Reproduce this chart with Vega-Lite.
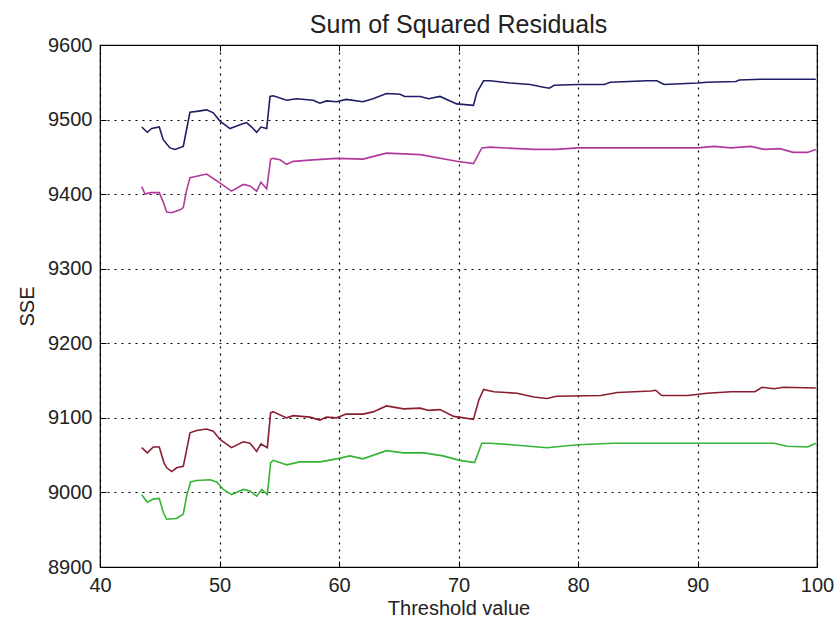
{
  "$schema": "https://vega.github.io/schema/vega-lite/v6.json",
  "width": 717,
  "height": 522,
  "autosize": "none",
  "padding": {"left": 100, "top": 45, "right": 18, "bottom": 52},
  "background": "white",
  "config": {
    "font": "Liberation Sans",
    "view": {"stroke": "black", "strokeWidth": 1.2}
  },
  "title": {"text": "Sum of Squared Residuals", "fontSize": 25, "fontWeight": "normal", "color": "#222222", "offset": -3, "anchor": "middle", "font": "Liberation Sans"},
  "data": {"values": [
    {"x":43.49,"y":9490,"s":"b"},{"x":43.96,"y":9483,"s":"b"},{"x":44.32,"y":9488,"s":"b"},{"x":44.96,"y":9490,"s":"b"},{"x":45.29,"y":9473,"s":"b"},{"x":45.86,"y":9462,"s":"b"},{"x":46.28,"y":9460,"s":"b"},{"x":46.97,"y":9464,"s":"b"},{"x":47.25,"y":9487,"s":"b"},{"x":47.53,"y":9510,"s":"b"},{"x":48.09,"y":9511,"s":"b"},{"x":48.92,"y":9513,"s":"b"},{"x":49.48,"y":9509,"s":"b"},{"x":50.04,"y":9498,"s":"b"},{"x":50.88,"y":9488,"s":"b"},{"x":51.72,"y":9493,"s":"b"},{"x":52.27,"y":9496,"s":"b"},{"x":52.69,"y":9490,"s":"b"},{"x":53.11,"y":9483,"s":"b"},{"x":53.47,"y":9490,"s":"b"},{"x":53.95,"y":9488,"s":"b"},{"x":54.23,"y":9531,"s":"b"},{"x":54.5,"y":9532,"s":"b"},{"x":55.62,"y":9526,"s":"b"},{"x":56.45,"y":9528,"s":"b"},{"x":57.85,"y":9526,"s":"b"},{"x":58.4,"y":9522,"s":"b"},{"x":58.97,"y":9525,"s":"b"},{"x":59.8,"y":9524,"s":"b"},{"x":60.6,"y":9527,"s":"b"},{"x":62.0,"y":9524,"s":"b"},{"x":62.85,"y":9528,"s":"b"},{"x":63.97,"y":9535,"s":"b"},{"x":65.1,"y":9534,"s":"b"},{"x":65.5,"y":9531,"s":"b"},{"x":66.8,"y":9531,"s":"b"},{"x":67.5,"y":9528,"s":"b"},{"x":68.45,"y":9531,"s":"b"},{"x":69.85,"y":9521,"s":"b"},{"x":71.25,"y":9519,"s":"b"},{"x":71.53,"y":9536,"s":"b"},{"x":72.1,"y":9552,"s":"b"},{"x":72.65,"y":9552,"s":"b"},{"x":74.35,"y":9549,"s":"b"},{"x":76.0,"y":9547,"s":"b"},{"x":76.9,"y":9544,"s":"b"},{"x":77.6,"y":9542,"s":"b"},{"x":78.0,"y":9546,"s":"b"},{"x":79.95,"y":9547,"s":"b"},{"x":82.2,"y":9547,"s":"b"},{"x":82.7,"y":9550,"s":"b"},{"x":85.8,"y":9552,"s":"b"},{"x":86.6,"y":9552,"s":"b"},{"x":87.2,"y":9547,"s":"b"},{"x":90.0,"y":9549,"s":"b"},{"x":90.8,"y":9550,"s":"b"},{"x":93.2,"y":9551,"s":"b"},{"x":93.5,"y":9553,"s":"b"},{"x":95.3,"y":9554,"s":"b"},{"x":99.9,"y":9554,"s":"b"},
    {"x":43.49,"y":9410,"s":"m"},{"x":43.77,"y":9400,"s":"m"},{"x":44.2,"y":9402,"s":"m"},{"x":44.96,"y":9402,"s":"m"},{"x":45.3,"y":9389,"s":"m"},{"x":45.58,"y":9376,"s":"m"},{"x":46.0,"y":9375,"s":"m"},{"x":46.7,"y":9379,"s":"m"},{"x":46.97,"y":9382,"s":"m"},{"x":47.2,"y":9402,"s":"m"},{"x":47.53,"y":9422,"s":"m"},{"x":48.09,"y":9424,"s":"m"},{"x":48.92,"y":9427,"s":"m"},{"x":49.76,"y":9418,"s":"m"},{"x":51.0,"y":9404,"s":"m"},{"x":51.99,"y":9413,"s":"m"},{"x":52.55,"y":9411,"s":"m"},{"x":53.11,"y":9404,"s":"m"},{"x":53.47,"y":9416,"s":"m"},{"x":53.95,"y":9407,"s":"m"},{"x":54.28,"y":9447,"s":"m"},{"x":54.5,"y":9448,"s":"m"},{"x":55.06,"y":9446,"s":"m"},{"x":55.62,"y":9440,"s":"m"},{"x":56.17,"y":9444,"s":"m"},{"x":57.85,"y":9446,"s":"m"},{"x":59.8,"y":9448,"s":"m"},{"x":62.0,"y":9447,"s":"m"},{"x":63.97,"y":9455,"s":"m"},{"x":66.8,"y":9453,"s":"m"},{"x":69.85,"y":9444,"s":"m"},{"x":71.25,"y":9441,"s":"m"},{"x":71.95,"y":9462,"s":"m"},{"x":72.65,"y":9463,"s":"m"},{"x":76.3,"y":9460,"s":"m"},{"x":78.2,"y":9460,"s":"m"},{"x":79.95,"y":9462,"s":"m"},{"x":90.0,"y":9462,"s":"m"},{"x":91.4,"y":9464,"s":"m"},{"x":92.8,"y":9462,"s":"m"},{"x":94.45,"y":9464,"s":"m"},{"x":95.6,"y":9460,"s":"m"},{"x":96.9,"y":9461,"s":"m"},{"x":98.0,"y":9456,"s":"m"},{"x":99.2,"y":9456,"s":"m"},{"x":99.9,"y":9460,"s":"m"},
    {"x":43.49,"y":9060,"s":"r"},{"x":43.96,"y":9053,"s":"r"},{"x":44.46,"y":9061,"s":"r"},{"x":44.96,"y":9061,"s":"r"},{"x":45.35,"y":9040,"s":"r"},{"x":45.58,"y":9033,"s":"r"},{"x":46.0,"y":9028,"s":"r"},{"x":46.41,"y":9033,"s":"r"},{"x":46.97,"y":9035,"s":"r"},{"x":47.25,"y":9057,"s":"r"},{"x":47.53,"y":9080,"s":"r"},{"x":48.09,"y":9083,"s":"r"},{"x":48.92,"y":9085,"s":"r"},{"x":49.48,"y":9082,"s":"r"},{"x":50.04,"y":9071,"s":"r"},{"x":51.0,"y":9060,"s":"r"},{"x":51.99,"y":9068,"s":"r"},{"x":52.55,"y":9066,"s":"r"},{"x":53.11,"y":9055,"s":"r"},{"x":53.47,"y":9065,"s":"r"},{"x":54.0,"y":9060,"s":"r"},{"x":54.28,"y":9107,"s":"r"},{"x":54.5,"y":9108,"s":"r"},{"x":55.62,"y":9100,"s":"r"},{"x":56.17,"y":9103,"s":"r"},{"x":57.57,"y":9101,"s":"r"},{"x":58.4,"y":9097,"s":"r"},{"x":58.97,"y":9101,"s":"r"},{"x":59.8,"y":9100,"s":"r"},{"x":60.6,"y":9105,"s":"r"},{"x":62.0,"y":9105,"s":"r"},{"x":62.85,"y":9108,"s":"r"},{"x":63.97,"y":9116,"s":"r"},{"x":65.4,"y":9112,"s":"r"},{"x":66.8,"y":9113,"s":"r"},{"x":67.5,"y":9110,"s":"r"},{"x":68.45,"y":9111,"s":"r"},{"x":69.6,"y":9102,"s":"r"},{"x":71.25,"y":9098,"s":"r"},{"x":71.7,"y":9124,"s":"r"},{"x":72.1,"y":9138,"s":"r"},{"x":72.95,"y":9135,"s":"r"},{"x":74.9,"y":9133,"s":"r"},{"x":76.3,"y":9128,"s":"r"},{"x":77.4,"y":9126,"s":"r"},{"x":78.2,"y":9129,"s":"r"},{"x":81.9,"y":9130,"s":"r"},{"x":83.3,"y":9134,"s":"r"},{"x":86.1,"y":9136,"s":"r"},{"x":86.5,"y":9137,"s":"r"},{"x":87.0,"y":9130,"s":"r"},{"x":89.2,"y":9130,"s":"r"},{"x":90.8,"y":9133,"s":"r"},{"x":92.8,"y":9135,"s":"r"},{"x":94.8,"y":9135,"s":"r"},{"x":95.4,"y":9141,"s":"r"},{"x":96.4,"y":9139,"s":"r"},{"x":97.2,"y":9141,"s":"r"},{"x":99.9,"y":9140,"s":"r"},
    {"x":43.49,"y":8997,"s":"g"},{"x":43.96,"y":8987,"s":"g"},{"x":44.46,"y":8991,"s":"g"},{"x":44.96,"y":8992,"s":"g"},{"x":45.3,"y":8973,"s":"g"},{"x":45.58,"y":8964,"s":"g"},{"x":46.41,"y":8965,"s":"g"},{"x":46.97,"y":8971,"s":"g"},{"x":47.25,"y":8995,"s":"g"},{"x":47.58,"y":9014,"s":"g"},{"x":48.09,"y":9016,"s":"g"},{"x":49.2,"y":9017,"s":"g"},{"x":49.76,"y":9014,"s":"g"},{"x":50.32,"y":9004,"s":"g"},{"x":51.0,"y":8997,"s":"g"},{"x":51.99,"y":9004,"s":"g"},{"x":52.55,"y":9002,"s":"g"},{"x":53.11,"y":8995,"s":"g"},{"x":53.53,"y":9004,"s":"g"},{"x":54.0,"y":8997,"s":"g"},{"x":54.28,"y":9040,"s":"g"},{"x":54.5,"y":9043,"s":"g"},{"x":55.62,"y":9037,"s":"g"},{"x":56.7,"y":9041,"s":"g"},{"x":58.4,"y":9041,"s":"g"},{"x":59.8,"y":9045,"s":"g"},{"x":60.9,"y":9049,"s":"g"},{"x":62.0,"y":9045,"s":"g"},{"x":63.97,"y":9056,"s":"g"},{"x":65.4,"y":9053,"s":"g"},{"x":67.1,"y":9053,"s":"g"},{"x":68.7,"y":9049,"s":"g"},{"x":70.1,"y":9043,"s":"g"},{"x":71.35,"y":9040,"s":"g"},{"x":71.95,"y":9066,"s":"g"},{"x":72.65,"y":9066,"s":"g"},{"x":75.2,"y":9063,"s":"g"},{"x":77.4,"y":9060,"s":"g"},{"x":79.95,"y":9064,"s":"g"},{"x":83.0,"y":9066,"s":"g"},{"x":90.0,"y":9066,"s":"g"},{"x":95.6,"y":9066,"s":"g"},{"x":96.4,"y":9066,"s":"g"},{"x":97.5,"y":9062,"s":"g"},{"x":99.2,"y":9061,"s":"g"},{"x":99.9,"y":9066,"s":"g"}
  ]},
  "resolve": {"axis": {"x": "independent", "y": "independent"}},
  "layer": [
    {
      "mark": {"type": "line", "strokeWidth": 1.6, "interpolate": "linear"},
      "encoding": {
        "x": {"field": "x", "type": "quantitative", "scale": {"domain": [40, 100], "nice": false, "zero": false},
          "axis": {"orient": "bottom", "title": "Threshold value", "values": [40, 50, 60, 70, 80, 90, 100], "grid": true, "gridColor": "black", "gridDash": [2, 5], "gridWidth": 1.2, "domain": false, "tickSize": -6, "tickColor": "black", "labelPadding": 14, "labelFontSize": 20, "labelColor": "#222222", "labelFont": "Liberation Sans", "titleFontSize": 20, "titleFontWeight": "normal", "titleColor": "#222222", "titleFont": "Liberation Sans", "titlePadding": 3, "labelFlush": false}},
        "y": {"field": "y", "type": "quantitative", "scale": {"domain": [8900, 9600], "nice": false, "zero": false},
          "axis": {"orient": "left", "title": "SSE", "values": [8900, 9000, 9100, 9200, 9300, 9400, 9500, 9600], "format": "d", "grid": true, "gridColor": "black", "gridDash": [2, 5], "gridWidth": 1.2, "domain": false, "tickSize": -6, "tickColor": "black", "labelPadding": 14, "labelFontSize": 20, "labelColor": "#222222", "labelFont": "Liberation Sans", "titleFontSize": 20, "titleFontWeight": "normal", "titleColor": "#222222", "titleFont": "Liberation Sans", "titlePadding": 10, "labelFlush": false}},
        "color": {"field": "s", "type": "nominal", "legend": null,
          "scale": {"domain": ["b", "m", "r", "g"], "range": ["#1e1e66", "#b03a9c", "#8a1e30", "#34b434"]}}
      }
    },
    {
      "mark": {"type": "line", "opacity": 0},
      "encoding": {
        "x": {"field": "x", "type": "quantitative",
          "axis": {"orient": "top", "title": null, "values": [40, 50, 60, 70, 80, 90, 100], "labels": false, "grid": false, "domain": false, "tickSize": -6, "tickColor": "black"}},
        "y": {"field": "y", "type": "quantitative",
          "axis": {"orient": "right", "title": null, "values": [8900, 9000, 9100, 9200, 9300, 9400, 9500, 9600], "labels": false, "grid": false, "domain": false, "tickSize": -6, "tickColor": "black"}},
        "detail": {"field": "s", "type": "nominal"}
      }
    }
  ]
}
